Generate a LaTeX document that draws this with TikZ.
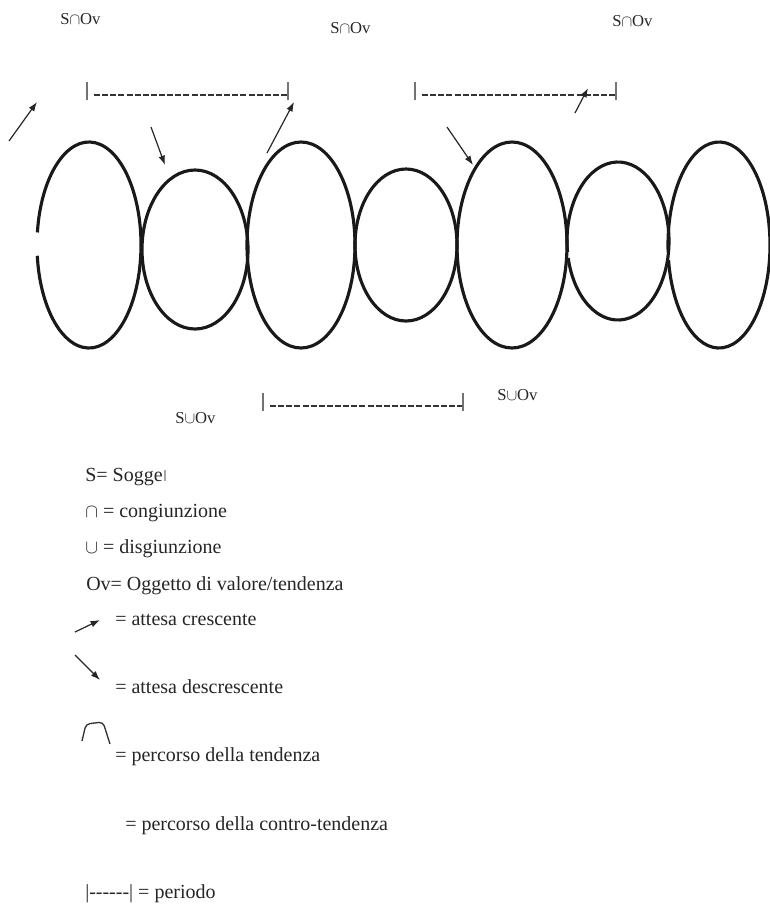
\documentclass[tikz,border=0pt]{standalone}
\usepackage{fontspec}
\setmainfont{Liberation Serif}
\usetikzlibrary{arrows.meta}
\begin{document}
\begin{tikzpicture}[x=0.75pt,y=-0.75pt,
  loopline/.style={line width=2.35pt, draw=black!90},
  expect/.style={line width=0.9pt, draw=black!85, -{Latex[length=7pt,width=5pt]}},
  periodline/.style={line width=1.3pt, draw=black!80, dash pattern=on 4.5pt off 1.6pt},
  periodbar/.style={line width=1.1pt, draw=black!55},
  lbl/.style={font=\fontsize{12.5}{15}\selectfont, text=black!85, inner sep=0pt, anchor=base west},
  legend/.style={font=\fontsize{15}{18}\selectfont, text=black!85, inner sep=0pt, anchor=base west}]
\useasboundingbox (0,0) rectangle (770,904);
\fill[white] (0,0) rectangle (770,904);

% chain of tendency / counter-tendency loops
\draw[loopline] (89,245) ++(187:52 and 103) arc[start angle=187, end angle=534, x radius=52, y radius=103];
\draw[loopline] (195,249.5) ellipse[x radius=53, y radius=79.5];
\draw[loopline] (301,245) ellipse[x radius=54, y radius=103];
\draw[loopline] (406,245) ellipse[x radius=51, y radius=76];
\draw[loopline] (512,245) ellipse[x radius=55, y radius=103];
\draw[loopline] (618,241) ++(172:51 and 79) arc[start angle=172, end angle=527.6, x radius=51, y radius=79];
\draw[loopline] (719,245) ++(176:51 and 103) arc[start angle=176, end angle=531.6, x radius=51, y radius=103];

% conjunction / disjunction labels
\node[lbl] (c1) at (60,24) {S\(\cap\)Ov};
\node[lbl] (c2) at (330,33) {S\(\cap\)Ov};
\node[lbl] (c3) at (612,26) {S\(\cap\)Ov};
\node[lbl] (d1) at (175,423) {S\(\cup\)Ov};
\node[lbl] (d2) at (497,400) {S\(\cup\)Ov};

% periods
\coordinate (p1a) at (87,82);  \coordinate (p1b) at (288,82);
\coordinate (p2a) at (415,82); \coordinate (p2b) at (616,82);
\coordinate (p3a) at (263,393); \coordinate (p3b) at (463,393);
\foreach \a/\b in {p1a/p1b, p2a/p2b, p3a/p3b} {
  \draw[periodbar] (\a) -- ++(0,18);
  \draw[periodbar] (\b) -- ++(0,18);
  \draw[periodline] ([shift={(7,13)}]\a) -- ([shift={(-1,13)}]\b);
}

% expectations
\coordinate (e1t) at (9,141);   \coordinate (e1h) at (37,102);
\coordinate (e2t) at (151,127); \coordinate (e2h) at (165,165);
\coordinate (e3t) at (267,153); \coordinate (e3h) at (294,102);
\coordinate (e4t) at (447,127); \coordinate (e4h) at (473,165);
\coordinate (e5t) at (575,113); \coordinate (e5h) at (588,88);
\foreach \t/\h in {e1t/e1h, e2t/e2h, e3t/e3h, e4t/e4h, e5t/e5h}
  \draw[expect] (\t) -- (\h);

% legend
\node[legend] (lS) at (85,481) {S= Sogge};
\draw[black!35, line width=0.8pt] (165,470) -- (165,481);
\node[legend] (lcap) at (85,517) {\(\cap\) = congiunzione};
\node[legend] (lcup) at (85,553) {\(\cup\) = disgiunzione};
\node[legend] (lOv) at (86,590) {Ov= Oggetto di valore/tendenza};

\coordinate (ga) at (75,632); \coordinate (gb) at (100,620);
\draw[expect] (ga) -- (gb);
\node[legend] (lup) at (115,625) {= attesa crescente};

\coordinate (gc) at (75,655); \coordinate (gd) at (100,680);
\draw[expect] (gc) -- (gd);
\node[legend] (ldown) at (115,693) {= attesa descrescente};

\draw[line width=1pt, black!80, rounded corners=3pt]
  (82,741) -- (86,724) -- (103,722) -- (110,744);
\node[legend] (ltrend) at (115,761) {= percorso della tendenza};
\node[legend] (lcounter) at (125,830) {= percorso della contro-tendenza};
\node[legend] (lperiod) at (85,898) {|-{}-{}-{}-{}-{}-| = periodo};
\end{tikzpicture}
\end{document}
